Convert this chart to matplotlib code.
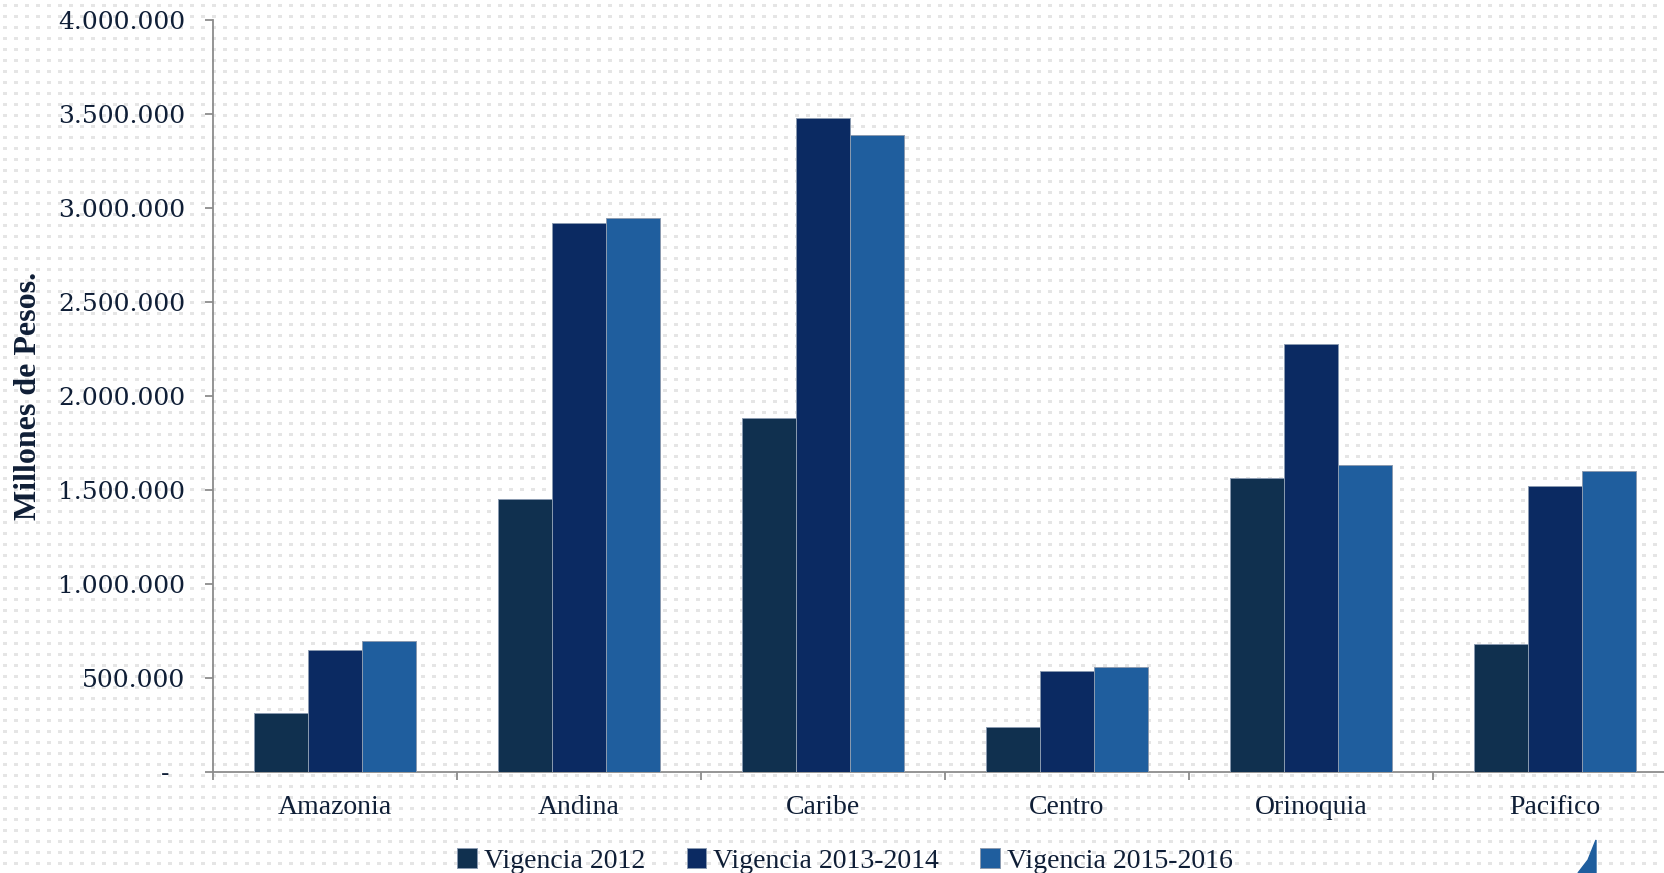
import numpy as np
import matplotlib
matplotlib.use("Agg")
import matplotlib.pyplot as plt
from matplotlib.ticker import FuncFormatter, FixedLocator
from matplotlib.patches import Polygon

# datos (millones de pesos)
regiones = ['Amazonia', 'Andina', 'Caribe', 'Centro', 'Orinoquia', 'Pacifico']
vig_2012 = [310000, 1452000, 1881000, 237000, 1565000, 678000]
vig_2013_2014 = [650000, 2921000, 3480000, 537000, 2277000, 1520000]
vig_2015_2016 = [695000, 2949000, 3390000, 559000, 1633000, 1599000]
series = ['Vigencia 2012', 'Vigencia 2013-2014', 'Vigencia 2015-2016']
colores = ['#10304f', '#0b2a62', '#1f5e9e']
yticks = [0, 500000, 1000000, 1500000, 2000000, 2500000, 3000000, 3500000, 4000000]

W, H = 1665, 873
txt = '#0f1e36'

fig = plt.figure(figsize=(W / 100, H / 100), dpi=100, facecolor='white')

# fondo punteado
bg = np.ones((H, W, 3))
yy, xx = np.mgrid[0:H, 0:W]
mask = ((yy % 11) >= 4) & ((yy % 11) < 7) & ((xx % 11) >= 3) & ((xx % 11) < 7)
bg[mask] = 0.9
fig.figimage(bg, xo=0, yo=0, origin='upper', zorder=-10)

ax = fig.add_axes([213 / W, 1 - 771.7 / H, 1464 / W, 751.7 / H])
ax.set_facecolor('none')

x = np.arange(len(regiones))
w = 0.222
datos = [vig_2012, vig_2013_2014, vig_2015_2016]
for i, (vals, nombre, c) in enumerate(zip(datos, series, colores)):
    ax.bar(x + (i - 1) * w, vals, width=w, color=c, label=nombre,
           edgecolor='#8a9ab0', linewidth=0.7, zorder=3)

ax.set_xlim(-0.5, len(regiones) - 0.5)
ax.set_ylim(0, 4000000)
ax.set_yticks(yticks)

def fmt(v, pos):
    if v == 0:
        return '-  '
    return f"{int(v):,}".replace(",", ".")

ax.yaxis.set_major_formatter(FuncFormatter(fmt))
ax.set_xticks(x)
ax.set_xticklabels(regiones, family='Liberation Serif', fontsize=20, color=txt)
ax.xaxis.set_minor_locator(FixedLocator(np.arange(-0.5, len(regiones), 1.0)))
ax.tick_params(axis='x', which='major', length=0, pad=17)
ax.tick_params(axis='x', which='minor', length=6, width=1.3, color='#8c8c8c')
ax.tick_params(axis='y', length=6, width=1.3, color='#8c8c8c', pad=14,
               labelsize=18, labelcolor=txt)
for lab in ax.get_yticklabels():
    lab.set_family('DejaVu Serif')

for s in ['top', 'right']:
    ax.spines[s].set_visible(False)
for s in ['left', 'bottom']:
    ax.spines[s].set_color('#8c8c8c')
    ax.spines[s].set_linewidth(1.3)

fig.text(29 / W, 1 - 396 / H, 'Millones de Pesos.', rotation=90, ha='center',
         va='center', family='Liberation Serif', fontweight='bold',
         fontsize=23, color=txt)

leg = fig.legend(loc='center', bbox_to_anchor=(845 / W, 1 - 861 / H), ncol=3,
                 frameon=False, prop={'family': 'Liberation Serif', 'size': 20},
                 handlelength=0.7, handleheight=0.7, handletextpad=0.25,
                 columnspacing=1.5)
for t in leg.get_texts():
    t.set_color(txt)

# fragmento del logo abajo a la derecha
logo = Polygon([[1596, H - 840], [1596, 0], [1578, 0], [1588, H - 860]],
               closed=True, transform=None, color='#1f5e9e', zorder=5)
fig.add_artist(logo)

fig.savefig('out.png', dpi=100, facecolor='white')
